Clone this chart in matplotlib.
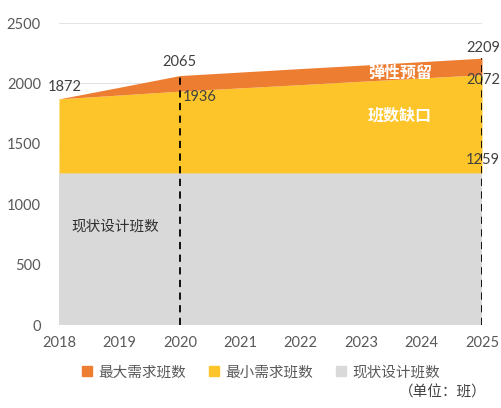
import matplotlib.pyplot as plt
from matplotlib.patches import Patch

plt.rcParams['font.family'] = ['Lato', 'Noto Sans CJK SC', 'DejaVu Sans']

years = [2018, 2019, 2020, 2021, 2022, 2023, 2024, 2025]
current = [1259, 1259, 1259, 1259, 1259, 1259, 1259, 1259]
min_demand = [1872, 1904, 1936, 1963, 1990, 2018, 2045, 2072]
max_demand = [1872, 1968, 2065, 2094, 2123, 2151, 2180, 2209]
series_names = ['最大需求班数', '最小需求班数', '现状设计班数']

c_orange = '#ED7D31'
c_yellow = '#FDC52A'
c_gray = '#D9D9D9'
c_text = '#595959'
cjk = ['Noto Sans CJK SC', 'DejaVu Sans']

fig = plt.figure(figsize=(5.02, 4.08), dpi=100)
ax = fig.add_axes([0.1175, 0.2034, 0.8427, 0.7402])

ax.fill_between(years, 0, current, color=c_gray, lw=0, zorder=2)
ax.fill_between(years, current, min_demand, color=c_yellow, lw=0, zorder=2)
ax.fill_between(years, min_demand, max_demand, color=c_orange, lw=0, zorder=2)

# dashed markers at 2020 and 2025
for i in (2, 7):
    ax.vlines(years[i], 0, max_demand[i], colors='black', linestyles=(0, (4, 3)), lw=1.3, zorder=4)

ax.set_xlim(2018, 2025)
ax.set_ylim(0, 2500)
ax.set_yticks([0, 500, 1000, 1500, 2000, 2500])
ax.set_xticks(years)
ax.grid(axis='y', color='#E3E3E3', lw=0.8, zorder=0)
for s in ax.spines.values():
    s.set_visible(False)
ax.tick_params(axis='both', length=0, labelsize=10.5, colors=c_text)
ax.tick_params(axis='y', pad=13)
ax.tick_params(axis='x', pad=8)

# value labels
lab = dict(fontsize=10.5, color='#404040', va='center')
ax.text(years[0] + 0.1, max_demand[0] + 100, str(max_demand[0]), ha='center', **lab)
ax.text(years[2], max_demand[2] + 112, str(max_demand[2]), ha='center', **lab)
ax.text(years[2] + 0.05, min_demand[2] - 50, str(min_demand[2]), ha='left', **lab)
ax.text(years[7] + 0.02, max_demand[7] + 85, str(max_demand[7]), ha='center', **lab)
ax.text(years[7] + 0.02, min_demand[7] - 44, str(min_demand[7]), ha='center', **lab)
ax.text(years[7] + 0.02, current[7] + 107, str(current[7]), ha='center', **lab)

ax.text(2023.64, 2086, '弹性预留', ha='center', va='center', fontsize=11.5, color='white', fontweight='bold', family=cjk)
ax.text(2023.64, 1738, '班数缺口', ha='center', va='center', fontsize=11.5, color='white', fontweight='bold', family=cjk)
ax.text(2018.2, 820, '现状设计班数', ha='left', va='center', fontsize=10.5, color='#303030', family=cjk)

handles = [Patch(color=c_orange), Patch(color=c_yellow), Patch(color=c_gray)]
fig.legend(handles, series_names, loc='center', bbox_to_anchor=(0.52, 0.088), ncol=3, frameon=False,
           handlelength=0.7, handleheight=0.7, handletextpad=0.4, columnspacing=1.6,
           prop={'family': cjk, 'size': 10.5}, labelcolor=c_text)

fig.text(0.97, 0.02, '（单位：班）', ha='right', va='bottom', fontsize=10.5, color='#404040', family=cjk)

fig.savefig('out.png', dpi=100)
